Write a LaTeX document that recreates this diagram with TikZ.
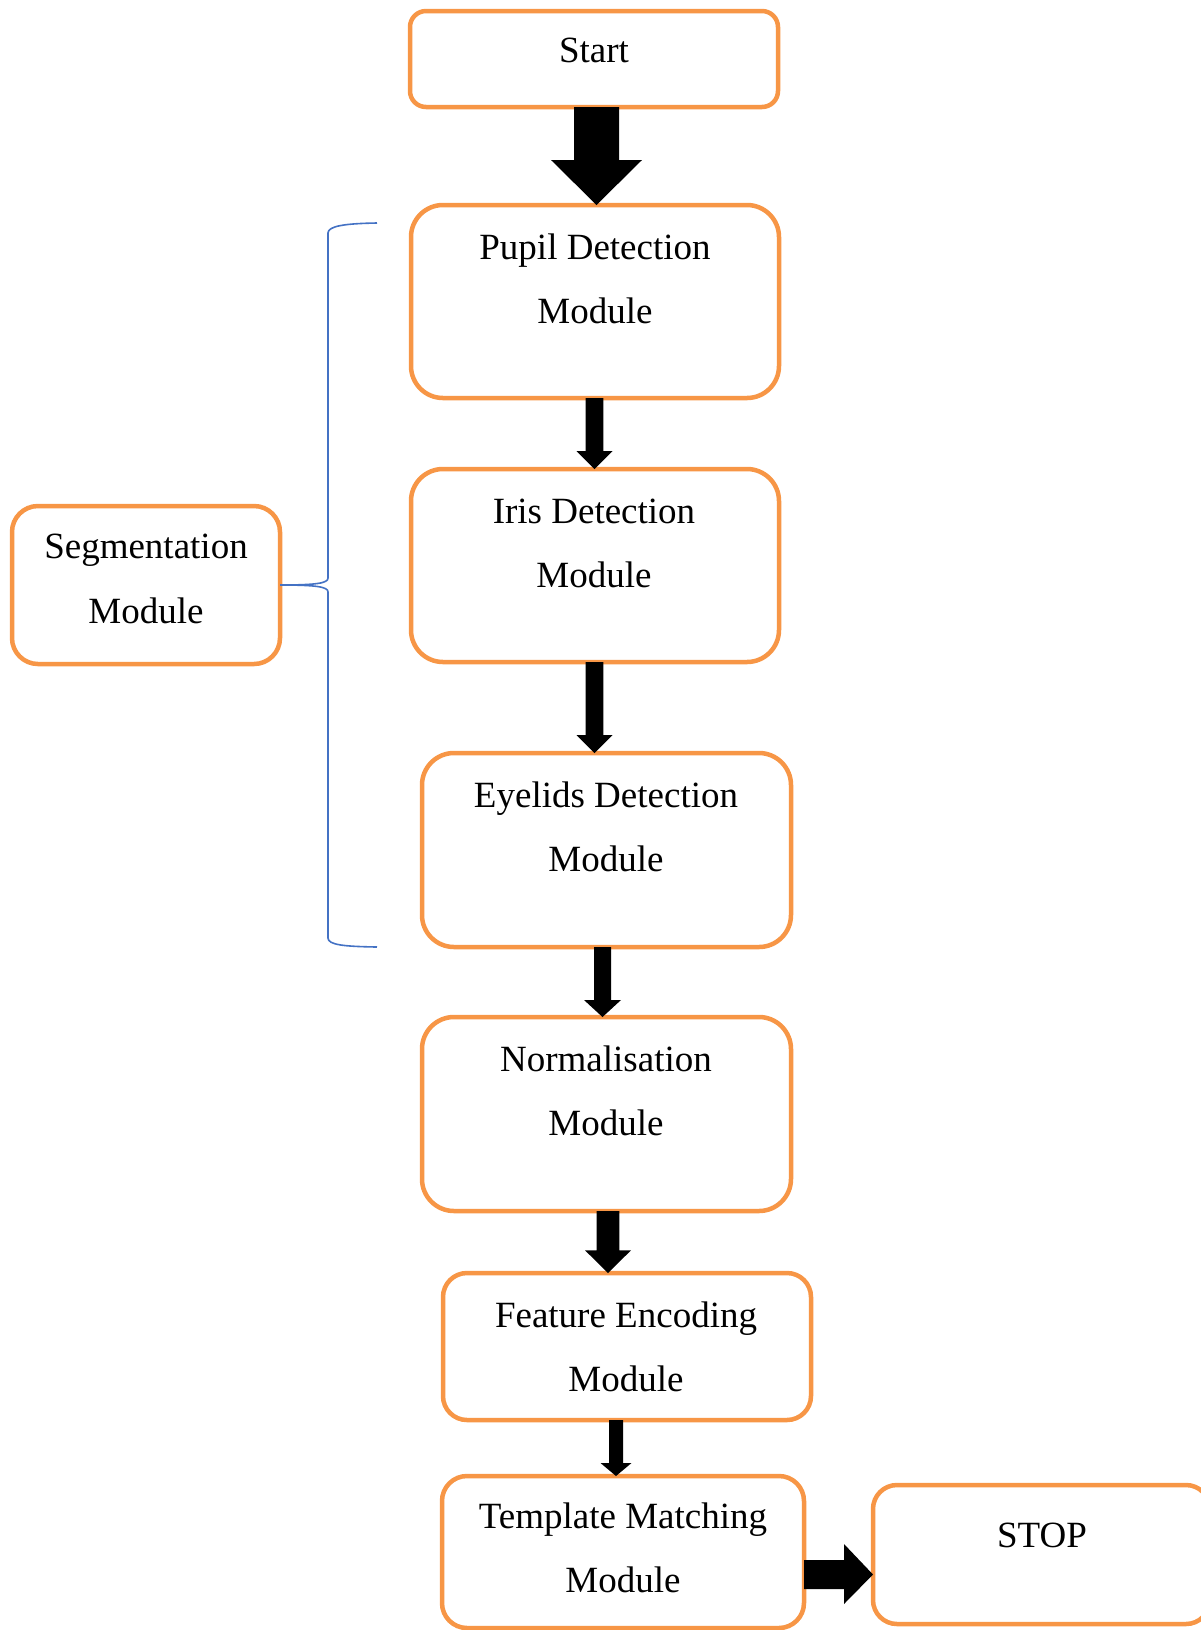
\documentclass[tikz,border=0pt]{standalone}
\usepackage{fontspec}
\setmainfont{Liberation Serif}
\usetikzlibrary{calc}
\definecolor{boxorange}{HTML}{F79646}
\definecolor{braceblue}{HTML}{4472C4}
\tikzset{
  flowbox/.style={rectangle, draw=boxorange, line width=2.25pt, fill=white,
    inner sep=0pt, outer sep=0pt, rounded corners=#1},
  flowbox/.default=16pt,
  lbl/.style={anchor=base, inner sep=0pt, font=\fontsize{18.5}{22}\selectfont},
  bracepath/.style={draw=braceblue, line width=0.8pt},
  blockfill/.style={fill=black},
}
% vertical block arrow: from, to, centre x (px), shaft half width, head half width, head length (px)
\newcommand\vblk[6]{%
  \fill[blockfill] let \p1=(#1.south), \p2=(#2.north) in
    ({(#3-#4)*0.5pt},\y1) -- ({(#3+#4)*0.5pt},\y1)
    -- ({(#3+#4)*0.5pt},{\y2+#6*0.5pt}) -- ({(#3+#5)*0.5pt},{\y2+#6*0.5pt})
    -- ({#3*0.5pt},\y2)
    -- ({(#3-#5)*0.5pt},{\y2+#6*0.5pt}) -- ({(#3-#4)*0.5pt},{\y2+#6*0.5pt}) -- cycle;}
\begin{document}
\begin{tikzpicture}[x=0.5pt,y=-0.5pt]
\useasboundingbox (0,0) rectangle (1201,1630);
\begin{scope}
\clip (0,0) rectangle (1201,1630);
% boxes
\node[flowbox=8pt, minimum width=184pt, minimum height=48pt] (start) at (594,59) {};
\node[flowbox=16pt, minimum width=184pt, minimum height=96.5pt] (pupil) at (595,301.5) {};
\node[flowbox=16pt, minimum width=184pt, minimum height=96.5pt] (iris) at (595,565.5) {};
\node[flowbox=16pt, minimum width=184.5pt, minimum height=97pt] (eyelid) at (606.5,850) {};
\node[flowbox=16pt, minimum width=184.5pt, minimum height=97pt] (norm) at (606.5,1114) {};
\node[flowbox=12pt, minimum width=184pt, minimum height=73.5pt] (feat) at (627,1346.5) {};
\node[flowbox=12.5pt, minimum width=181pt, minimum height=76pt] (tmpl) at (623,1552) {};
\node[flowbox=12pt, minimum width=168.5pt, minimum height=69.5pt] (stop) at (1041.5,1554.5) {};
\node[flowbox=13pt, minimum width=134pt, minimum height=79pt] (seg) at (146,585) {};

% texts
\node[lbl] (startT) at (594,62) {Start};
\node[lbl] (pupilT1) at (595,259) {Pupil Detection};
\node[lbl] (pupilT2) at (595,323) {Module};
\node[lbl] (irisT1) at (594,523) {Iris Detection};
\node[lbl] (irisT2) at (594,587) {Module};
\node[lbl] (eyelidT1) at (606,807) {Eyelids Detection};
\node[lbl] (eyelidT2) at (606,871) {Module};
\node[lbl] (normT1) at (606,1071) {Normalisation};
\node[lbl] (normT2) at (606,1135) {Module};
\node[lbl] (featT1) at (626,1327) {Feature Encoding};
\node[lbl] (featT2) at (626,1391) {Module};
\node[lbl] (tmplT1) at (623,1528) {Template Matching};
\node[lbl] (tmplT2) at (623,1592) {Module};
\node[lbl] (stopT) at (1042,1547) {STOP};
\node[lbl] (segT1) at (146,558) {Segmentation};
\node[lbl] (segT2) at (146,623) {Module};

% brace
\coordinate (braceTop) at (377,223);
\coordinate (braceBot) at (377,947);
\draw[bracepath] (braceTop) .. controls (345,223.5) and (328,226) .. (328,233)
  -- (328,578) .. controls (328,583) and (318,585) .. (seg.east)
  .. controls (318,585) and (328,587) .. (328,592)
  -- (328,938) .. controls (328,945) and (345,946.5) .. (braceBot);

% block arrows
\vblk{start}{pupil}{596.5}{22.5}{45.5}{45}
\vblk{pupil}{iris}{594.5}{8.8}{18}{18}
\vblk{iris}{eyelid}{594.5}{8.8}{18}{18}
\vblk{eyelid}{norm}{602.5}{8.5}{18.5}{17}
\vblk{norm}{feat}{608}{11.3}{23}{22.7}
\vblk{feat}{tmpl}{616}{7}{15.5}{13}
\fill[blockfill] let \p1=(tmpl.east), \p2=(stop.west) in
  (\x1,{-1560*0.5pt}) -- ({\x2-29*0.5pt},{-1560*0.5pt}) -- ({\x2-29*0.5pt},{-1544*0.5pt})
  -- (\x2,{-1574.5*0.5pt}) -- ({\x2-29*0.5pt},{-1604*0.5pt}) -- ({\x2-29*0.5pt},{-1589*0.5pt})
  -- (\x1,{-1589*0.5pt}) -- cycle;
\end{scope}
\end{tikzpicture}
\end{document}
